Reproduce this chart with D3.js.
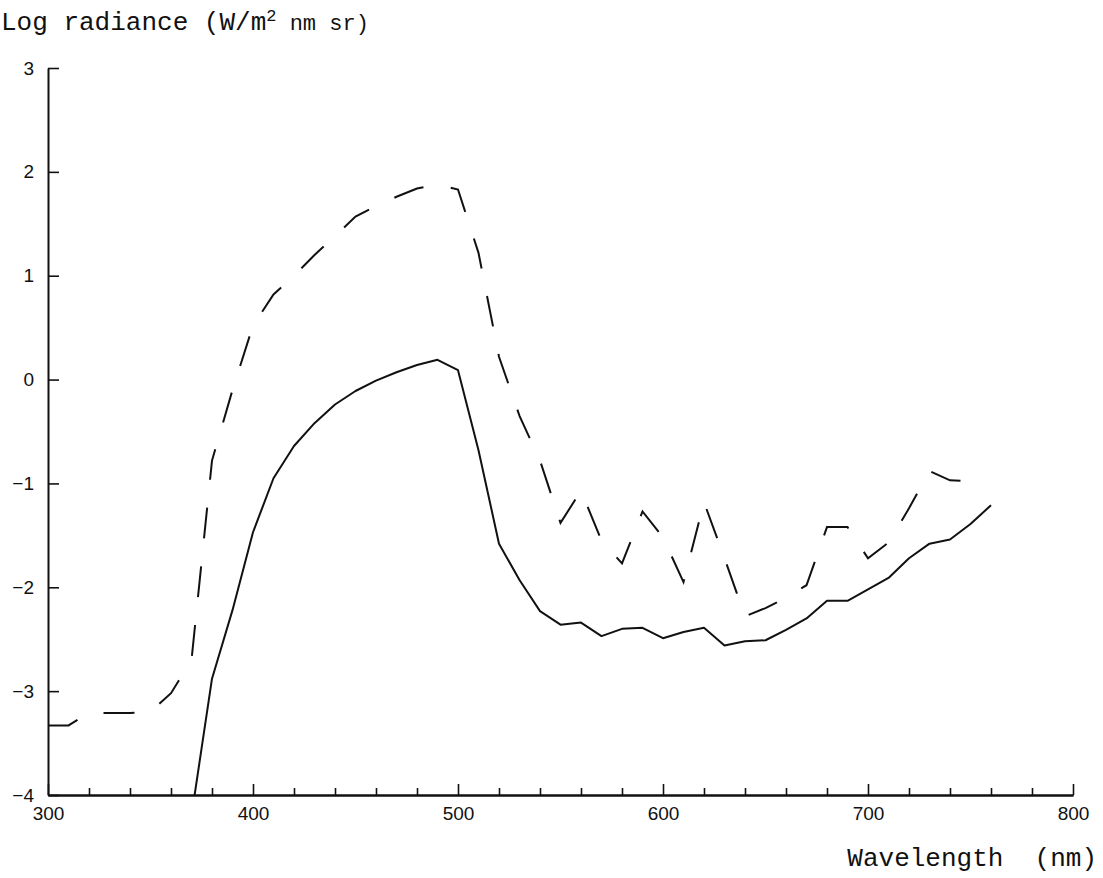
<!DOCTYPE html>
<html>
<head>
<meta charset="utf-8">
<script src="https://cdn.jsdelivr.net/npm/d3@7/dist/d3.min.js"></script>
<style>
  html, body { margin: 0; padding: 0; background: #fff; }
  svg { display: block; }
  .tick-label { font-family: "Liberation Sans", Arial, sans-serif; font-size: 19px; fill: #111; }
  .mono { font-family: "Liberation Mono", "Courier New", monospace; fill: #111; }
</style>
</head>
<body>
<svg id="chart" width="1103" height="878"></svg>
<script>
// Spectral radiance, log10 scale, sampled every 10 nm
const wavelengthsSolid = [370, 380, 390, 400, 410, 420, 430, 440, 450, 460,
  470, 480, 490, 500, 510, 520, 530, 540, 550, 560,
  570, 580, 590, 600, 610, 620, 630, 640, 650, 660,
  670, 680, 690, 700, 710, 720, 730, 740, 750, 760];
const logRadianceSolid = [-4.2, -2.88, -2.22, -1.47, -0.95, -0.64, -0.42, -0.24, -0.11, -0.01,
  0.07, 0.14, 0.19, 0.09, -0.68, -1.58, -1.93, -2.23, -2.36, -2.34,
  -2.47, -2.40, -2.39, -2.49, -2.43, -2.39, -2.56, -2.52, -2.51, -2.41,
  -2.30, -2.13, -2.13, -2.02, -1.91, -1.72, -1.58, -1.54, -1.39, -1.21];

const wavelengthsDashed = [300, 310, 320, 330, 340, 350, 360, 370, 380, 390,
  400, 410, 420, 430, 440, 450, 460, 470, 480, 490,
  500, 510, 520, 530, 540, 550, 560, 570, 580, 590,
  600, 610, 620, 630, 640, 650, 660, 670, 680, 690,
  700, 710, 720, 730, 740, 750];
const logRadianceDashed = [-3.33, -3.33, -3.21, -3.21, -3.21, -3.20, -3.02, -2.70, -0.78, -0.10,
  0.52, 0.82, 1.00, 1.20, 1.38, 1.57, 1.67, 1.76, 1.84, 1.88,
  1.83, 1.22, 0.22, -0.35, -0.78, -1.38, -1.07, -1.55, -1.77, -1.27,
  -1.52, -1.95, -1.18, -1.72, -2.28, -2.20, -2.10, -1.98, -1.42, -1.42,
  -1.72, -1.57, -1.24, -0.88, -0.97, -0.98];

const xMajorTicks = [300, 400, 500, 600, 700, 800];
const xMinorTicks = d3.range(300, 801, 20).filter(v => v % 100 !== 0);
const yTicks = [-4, -3, -2, -1, 0, 1, 2, 3];

const svg = d3.select("#chart");
const plotLeft = 48, plotRight = 1073, plotTop = 68, plotBottom = 795;

const x = d3.scaleLinear().domain([300, 800]).range([plotLeft, plotRight]);
const y = d3.scaleLinear().domain([-4, 3]).range([plotBottom, plotTop]);

// clip so the curves stay inside the plotting frame
svg.append("defs").append("clipPath").attr("id", "plot-clip")
  .append("rect").attr("x", plotLeft).attr("y", plotTop)
  .attr("width", plotRight - plotLeft).attr("height", plotBottom - plotTop);

// x axis: major ticks every 100 nm, minor every 20 nm, pointing into the plot
const xAxisMajor = d3.axisBottom(x).tickValues(xMajorTicks).tickSize(-11).tickSizeOuter(0)
  .tickFormat(d3.format("d")).tickPadding(23);
const xAxisMinor = d3.axisBottom(x).tickValues(xMinorTicks).tickSize(-7).tickSizeOuter(0).tickFormat("");

const gxMinor = svg.append("g").attr("transform", `translate(0,${plotBottom})`).call(xAxisMinor);
const gx = svg.append("g").attr("transform", `translate(0,${plotBottom})`).call(xAxisMajor);
[gx, gxMinor].forEach(g => {
  g.select(".domain").attr("stroke", "#111").attr("stroke-width", 2);
  g.selectAll(".tick line").attr("stroke", "#111").attr("stroke-width", 1.6);
});
gx.selectAll(".tick text").attr("class", "tick-label").attr("dy", "0.1em");

// y axis: ticks point right, into the plot
const yAxis = d3.axisLeft(y).tickValues(yTicks).tickSize(-11).tickSizeOuter(0)
  .tickFormat(d => d < 0 ? "\u2212" + Math.abs(d) : String(d)).tickPadding(14);
const gy = svg.append("g").attr("transform", `translate(${plotLeft},0)`).call(yAxis);
gy.select(".domain").attr("stroke", "#111").attr("stroke-width", 2);
gy.selectAll(".tick line").attr("stroke", "#111").attr("stroke-width", 1.6);
gy.selectAll(".tick text").attr("class", "tick-label");

const line = d3.line().x(d => x(d[0])).y(d => y(d[1]));

const solid = wavelengthsSolid.map((w, i) => [w, logRadianceSolid[i]]);
const dashed = wavelengthsDashed.map((w, i) => [w, logRadianceDashed[i]]);

const plot = svg.append("g").attr("clip-path", "url(#plot-clip)");
plot.append("path").datum(dashed).attr("d", line)
  .attr("fill", "none").attr("stroke", "#111").attr("stroke-width", 2)
  .attr("stroke-dasharray", "31,28");
plot.append("path").datum(solid).attr("d", line)
  .attr("fill", "none").attr("stroke", "#111").attr("stroke-width", 2)
  .attr("stroke-linejoin", "round");

// axis titles
const yTitle = svg.append("text").attr("class", "mono").attr("x", 1).attr("y", 30);
yTitle.append("tspan").attr("font-size", 26).text("Log radiance (W/m");
yTitle.append("tspan").attr("font-size", 17).attr("dy", -9).text("2");
yTitle.append("tspan").attr("font-size", 22).attr("dy", 9).text(" nm sr)");

svg.append("text").attr("class", "mono").attr("x", 1097).attr("y", 866)
  .attr("text-anchor", "end").attr("font-size", 26)
  .attr("xml:space", "preserve").style("white-space", "pre")
  .text("Wavelength  (nm)");
</script>
</body>
</html>
